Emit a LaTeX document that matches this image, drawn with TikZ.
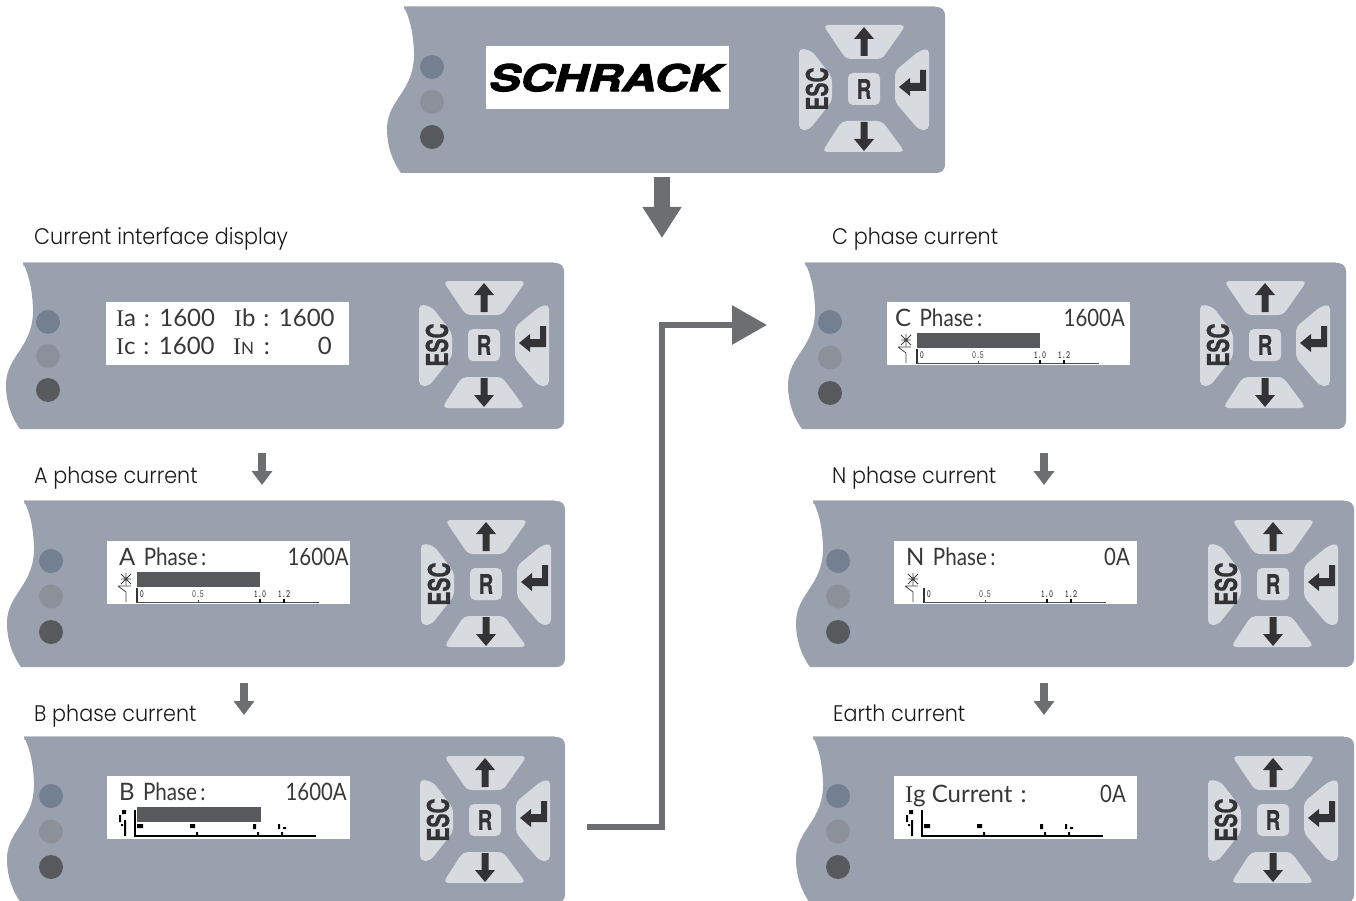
\documentclass[tikz,border=0pt]{standalone}
\usepackage{fontspec}
\usepackage{graphicx}
\usetikzlibrary{arrows.meta,calc,positioning}
\setmainfont{Poppins}[UprightFont=* Light,FakeStretch=0.92]
\newfontfamily\lcdfont{Lato}
\newfontfamily\serfont{Liberation Serif}
\newfontfamily\keyfont{TeX Gyre Heros}[BoldFeatures={FakeBold=0.7}]
\newfontfamily\logofont{TeX Gyre Heros}[BoldItalicFeatures={FakeBold=2.5}]
\definecolor{panelCol}{HTML}{9AA1AE}
\definecolor{panelEdge}{HTML}{C4C9D1}
\definecolor{keyCol}{HTML}{D7DADF}
\definecolor{glyphCol}{HTML}{333336}
\definecolor{ledA}{HTML}{738090}
\definecolor{ledB}{HTML}{8C9199}
\definecolor{ledC}{HTML}{58595D}
\definecolor{flowCol}{HTML}{6D6E72}
\definecolor{barCol}{HTML}{58595D}
\newcommand{\fsz}[1]{\fontsize{#1}{#1}\selectfont}
\newcommand{\tk}[1]{\scalebox{.7}[1]{#1}}
\tikzset{
  lcd/.style={fill=white, anchor=north west, minimum width=243pt, minimum height=63pt, inner sep=0pt},
  led/.style={circle, minimum size=24pt, inner sep=0pt, fill=#1},
  keybtn/.style={fill=keyCol, rounded corners=5pt},
  keyglyph/.style={fill=glyphCol},
  keytxt/.style={text=glyphCol, inner sep=0pt, font=\keyfont\bfseries\fsz{#1}},
  caption/.style={anchor=base west, inner sep=0pt, font=\fsz{22.5}, text=black!90},
  lcdtxt/.style={anchor=base west, inner sep=0pt, font=\lcdfont\fsz{24}, text=black!78},
  lcdval/.style={lcdtxt, anchor=base east},
  ticktxt/.style={anchor=base, inner sep=0pt, font=\ttfamily\bfseries\fsz{11}, text=black!80},
  flowbig/.style={-{Triangle[width=37pt,length=31pt]}, flowCol, line width=16pt},
  flowsmall/.style={-{Triangle[width=20pt,length=14pt]}, flowCol, line width=8pt},
  flowbend/.style={-{Triangle[width=38pt,length=35pt]}, flowCol, line width=6pt},
}
% keypad round a centre
\newcommand{\keypad}[2]{%
  \begin{scope}[shift={(#2)}]
    \fill[keybtn] (-41,-64) -- (42,-64) -- (18,-30) -- (-18,-30) -- cycle;
    \fill[keybtn] (-22,32) -- (18,32) -- (41,63) -- (-42,63) -- cycle;
    \fill[keybtn] (-65,-41) -- (-52,-38) -- (-32,-12) -- (-32,12) -- (-55,41) -- (-65,41) -- cycle;
    \fill[keybtn] (65,-41) -- (55,-38) -- (31,-18) -- (31,13) -- (55,41) -- (65,41) -- cycle;
    \fill[keybtn] (-16,-16) rectangle (16,16);
    \fill[keyglyph] (0,-62) -- (10,-50) -- (3.5,-50) -- (3.5,-33) -- (-3.5,-33) -- (-3.5,-50) -- (-10,-50) -- cycle;
    \fill[keyglyph] (0,62) -- (10,50) -- (3.5,50) -- (3.5,33) -- (-3.5,33) -- (-3.5,50) -- (-10,50) -- cycle;
    \fill[keyglyph] (35,-2) -- (46,-11) -- (46,-6) -- (56,-6) -- (56,-19) -- (62,-19) -- (62,2) -- (46,2) -- (46,7) -- cycle;
    \node[keytxt=27] (#1R) at (0,0) {\scalebox{.75}[1]{R}};
    \node[keytxt=30,rotate=90] (#1Esc) at (-47,0) {\scalebox{.7}[1]{ESC}};
  \end{scope}}
% name, x, y, led x, led y, led gap, lcd x, lcd y, keypad centre
\newcommand{\panel}[9]{%
  \fill[panelEdge] (#2+17,#3-1) -- (#2+548,#3-1) -- (#2+548,#3+3) -- (#2+17,#3+3) -- cycle;
  \fill[panelCol] (#2+17,#3) [rounded corners=8pt] -- (#2+558,#3) -- (#2+558,#3+166) [sharp corners]
    -- (#2+14,#3+166) .. controls (#2+6,#3+155) and (#2,#3+140) .. (#2,#3+122)
    .. controls (#2,#3+92) and (#2+28,#3+85) .. (#2+27,#3+45)
    .. controls (#2+26,#3+25) and (#2+23,#3+12) .. (#2+17,#3) -- cycle;
  \node[led=ledA] (#1a) at (#4,#5) {};
  \node[led=ledB] (#1b) at (#4,#5+#6) {};
  \node[led=ledC] (#1c) at (#4,#5+2*#6) {};
  \node[lcd] (#1) at (#7,#8) {};
  \keypad{#1}{#9}}
% lcd, letter x, letter, value x, value
\newcommand{\phaseline}[5]{%
  \node[lcdtxt] (#1t) at ([shift={(#2,24)}]#1.north west) {#3\hspace{.35em}\scalebox{.86}[1]{Phase\,:}};
  \node[lcdval] (#1v) at ([shift={(#4,24)}]#1.north west) {\scalebox{.85}[1]{#5}};}
% light scale with bar length
\newcommand{\scalelight}[2]{%
  \begin{scope}[shift={(#1.north west)}]
    \ifnum#2>0 \fill[barCol] (30,31) rectangle (30+#2,46);\fi
    \draw[black!80,line width=1.6pt] (30,47) -- (30,62);
    \draw[black!70,line width=1pt] (30,61.5) -- (212,61.5);
    \draw[black!70,line width=.8pt] (91,59) -- (91,62);
    \draw[black,line width=1.4pt] (153,58) -- (153,62) (177,58) -- (177,62);
    \node[ticktxt] (#1s0) at (35,56) {\tk{0}};
    \node[ticktxt,font=\ttfamily\fsz{11}] (#1s1) at (91,56) {\tk{0.5}};
    \node[ticktxt] (#1s2) at (153,56) {\tk{1.0}};
    \node[ticktxt] (#1s3) at (177,56) {\tk{1.2}};
    % breaker sign
    \draw[black!75,line width=.8pt] (14,33) -- (24,43) (14,43) -- (24,33) (19,32) -- (19,44) (14,38) -- (24,38)
      (11,45) -- (24,45) (11,45) -- (19,51) -- (19,61);
  \end{scope}}
% heavy scale with bar length
\newcommand{\scaleheavy}[2]{%
  \begin{scope}[shift={(#1.north west)}]
    \ifnum#2>0 \fill[barCol] (30,31) rectangle (30+#2,46);\fi
    \draw[black,line width=2pt] (28,34) -- (28,60) -- (209,60);
    \fill[black] (30,48) rectangle (36,52) (83,48) rectangle (88,52) (146,48) rectangle (149,53)
      (171,48) rectangle (173,53) (176,51) rectangle (179,53)
      (89,56) rectangle (91,59) (150,56) rectangle (152,59) (174,56) rectangle (176,59);
    \fill[black] (15,34) rectangle (19,38) (17,44) rectangle (19,60) (12,39) rectangle (14,46) (14,48) rectangle (16,50);
  \end{scope}}
\begin{document}
\begin{tikzpicture}[x=1pt,y=-1pt]
  \path[use as bounding box,clip] (0,0) rectangle (1356,901);

  \panel{top}{387}{7}{432}{67}{35}{486}{46}{864,89}
  \panel{cur}{6}{263}{48}{322}{34}{106}{302}{484,345}
  \panel{pha}{7}{501}{51}{561}{35.5}{107}{541}{486,584}
  \panel{phb}{7}{737}{51}{796}{35.5}{107}{776}{485,820}
  \panel{phc}{788}{263}{830}{322}{35.5}{887}{302}{1265,345}
  \panel{phn}{796}{501}{838}{561}{35.5}{894}{541}{1273,584}
  \panel{gnd}{796}{737}{838}{796}{35.5}{894}{776}{1273,820}

  % captions
  \node[caption] (capCur) at (34,244) {Current interface display};
  \node[caption] (capA) at (34,483) {A phase current};
  \node[caption] (capB) at (34,721) {B phase current};
  \node[caption] (capC) at (832,244) {C phase current};
  \node[caption] (capN) at (832,483) {N phase current};
  \node[caption] (capE) at (833,721) {Earth current};

  % displays
  \node[inner sep=0pt,font=\logofont\bfseries\itshape\fsz{37}] (logo) at ([xshift=-2pt]top) {\scalebox{1.27}[1]{SCHRACK}};
  \node[lcdtxt] (curIa) at (116,326) {{\serfont I}a\hspace{.32em}:\hspace{.4em}1600};
  \node[lcdtxt] (curIb) at (234,326) {{\serfont I}b\hspace{.32em}:\hspace{.4em}1600};
  \node[lcdtxt] (curIc) at (116,354) {{\serfont I}c\hspace{.32em}:\hspace{.4em}1600};
  \node[lcdtxt] (curIn) at (233,354) {{\serfont I}{\fsz{17}N}\hspace{.4em}:};
  \node[lcdval] (curIz) at (332,354) {0};
  \phaseline{pha}{12}{A}{242}{1600A}\scalelight{pha}{123}
  \phaseline{phb}{12}{B}{240}{1600A}\scaleheavy{phb}{124}
  \phaseline{phc}{8}{C}{238}{1600A}\scalelight{phc}{123}
  \phaseline{phn}{12}{N}{236}{0A}\scalelight{phn}{0}
  \node[lcdtxt] (gndt) at (905,802) {{\serfont I}g Current\,\,:};
  \node[lcdval] (gndv) at (1126,802) {\scalebox{.85}[1]{0A}};
  \scaleheavy{gnd}{0}

  % arrows
  \coordinate (a0s) at (662,177);
  \coordinate (a0e) at (662,238);
  \draw[flowbig] (a0s) -- (a0e);
  \foreach \n/\xx/\ya/\yb in {a1/262/453/485,a2/244/683/715,a3/1044/453/485,a4/1044/683/715}{
    \coordinate (\n s) at (\xx,\ya);
    \coordinate (\n e) at (\xx,\yb);
    \draw[flowsmall] (\n s) -- (\n e);
  }
  \coordinate (bendS) at (587,827);
  \coordinate (bendE) at (767,325);
  \draw[flowbend] (bendS) -| (662,325) -- (bendE);
\end{tikzpicture}
\end{document}
